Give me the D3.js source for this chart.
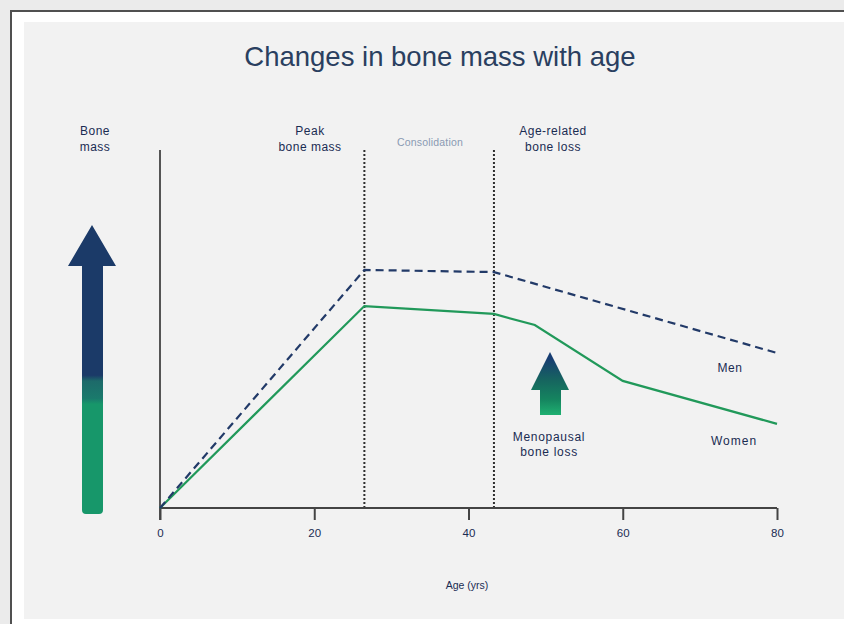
<!DOCTYPE html>
<html><head><meta charset="utf-8">
<script src="https://cdn.jsdelivr.net/npm/d3@7"></script>
<style>
html,body{margin:0;padding:0;background:#ebebeb;}
svg{display:block;}
text{font-family:"Liberation Sans",Arial,sans-serif;}
</style></head>
<body>
<svg id="c" width="844" height="624"></svg>
<script>
// ---- data ----
const menAges = [0, 26.5, 43.3, 80];
const menMass = [0, 66.5, 65.9, 43.3];
const womenAges = [0, 26.5, 43.3, 48.6, 60, 80];
const womenMass = [0, 56.4, 54.2, 51.1, 35.5, 23.5];
const phaseLines = [26.5, 43.3];
const xTicks = [0, 20, 40, 60, 80];

const svg = d3.select("#c");
// frame
svg.append("rect").attr("x",0).attr("y",0).attr("width",844).attr("height",624).attr("fill","#ebebeb");
svg.append("rect").attr("x",11).attr("y",11).attr("width",840).attr("height",620).attr("fill","#ffffff").attr("stroke","#505050").attr("stroke-width",2);
svg.append("rect").attr("x",24).attr("y",22).attr("width",820).attr("height",597).attr("fill","#f2f2f2");

const x = d3.scaleLinear().domain([0,80]).range([160,777]);
const y = d3.scaleLinear().domain([0,100]).range([508,150]);

const navy = "#1b3a68", green = "#17976a", txt = "#1a2c52";

// gradients
const defs = svg.append("defs");
const g1 = defs.append("linearGradient").attr("id","gBig").attr("gradientUnits","userSpaceOnUse")
  .attr("x1",0).attr("y1",225).attr("x2",0).attr("y2",514);
g1.append("stop").attr("offset","0.52").attr("stop-color",navy);
g1.append("stop").attr("offset","0.54").attr("stop-color","#1d6a6a");
g1.append("stop").attr("offset","0.6").attr("stop-color","#1a7a6c");
g1.append("stop").attr("offset","0.62").attr("stop-color",green);
g1.append("stop").attr("offset","1").attr("stop-color",green);
const g2 = defs.append("linearGradient").attr("id","gSmall").attr("gradientUnits","userSpaceOnUse")
  .attr("x1",0).attr("y1",352).attr("x2",0).attr("y2",415);
g2.append("stop").attr("offset","0.1").attr("stop-color","#173d72");
g2.append("stop").attr("offset","0.45").attr("stop-color","#16655f");
g2.append("stop").attr("offset","0.75").attr("stop-color","#15845f");
g2.append("stop").attr("offset","1").attr("stop-color","#1fb071");

// title
svg.append("text").attr("x",440).attr("y",66).attr("text-anchor","middle")
  .attr("font-size",27.5).attr("fill","#2a3f60").text("Changes in bone mass with age");

// big arrow
svg.append("path").attr("fill","url(#gBig)")
  .attr("d","M92,225 L116,266 L103,266 L103,510 Q103,514 99,514 L86,514 Q82,514 82,510 L82,266 L68,266 Z");
// small arrow
svg.append("path").attr("fill","url(#gSmall)")
  .attr("d","M550,352 L569,390 L561,390 L561,415 L540,415 L540,390 L531,390 Z");

// phase lines
svg.selectAll(".ph").data(phaseLines).enter().append("line")
  .attr("x1",d=>x(d)).attr("x2",d=>x(d)).attr("y1",150).attr("y2",508)
  .attr("stroke","#2e2e2e").attr("stroke-width",2).attr("stroke-dasharray","2,2");

// axes
svg.append("line").attr("x1",160).attr("x2",160).attr("y1",150).attr("y2",520).attr("stroke","#555").attr("stroke-width",2);
const xa = svg.append("g").attr("transform","translate(0,508)")
  .call(d3.axisBottom(x).tickValues(xTicks).tickSize(12).tickPadding(9).tickFormat(d3.format("d")));
xa.select(".domain").attr("stroke","#444").attr("stroke-width",2).attr("d","M160,0H777");
xa.selectAll(".tick line").attr("stroke","#444").attr("stroke-width",2);
xa.selectAll(".tick text").attr("font-size",11.5).attr("fill",txt).attr("font-family","Liberation Sans, Arial, sans-serif");

// lines
const line = d3.line().x(d=>x(d[0])).y(d=>y(d[1]));
svg.append("path").datum(womenAges.map((a,i)=>[a,womenMass[i]])).attr("d",line)
  .attr("fill","none").attr("stroke","#21995a").attr("stroke-width",2.2);
svg.append("path").datum(menAges.map((a,i)=>[a,menMass[i]])).attr("d",line)
  .attr("fill","none").attr("stroke","#223a68").attr("stroke-width",2.2).attr("stroke-dasharray","8,5");

// labels
function lbl(xp, yp, lines, opts={}){
  const t = svg.append("text").attr("x",xp).attr("y",yp).attr("text-anchor","middle")
    .attr("font-size",opts.size||12).attr("fill",opts.fill||txt).attr("letter-spacing",opts.ls||"0.5px");
  lines.forEach((s,i)=>t.append("tspan").attr("x",xp).attr("dy",i?(opts.lh||16):0).text(s));
}
lbl(95,135,["Bone","mass"]);
lbl(310,135,["Peak","bone mass"]);
lbl(553,135,["Age-related","bone loss"]);
lbl(430,146,["Consolidation"],{size:10.5,fill:"#8a9ab2",ls:"0.2px"});
lbl(730,372,["Men"]);
lbl(734,445,["Women"],{ls:"1px"});
lbl(549,441,["Menopausal","bone loss"],{lh:15,ls:"0.7px"});
svg.append("text").attr("x",467).attr("y",589).attr("text-anchor","middle").attr("font-size",10.5)
  .attr("fill",txt).text("Age (yrs)");
</script>
</body></html>
